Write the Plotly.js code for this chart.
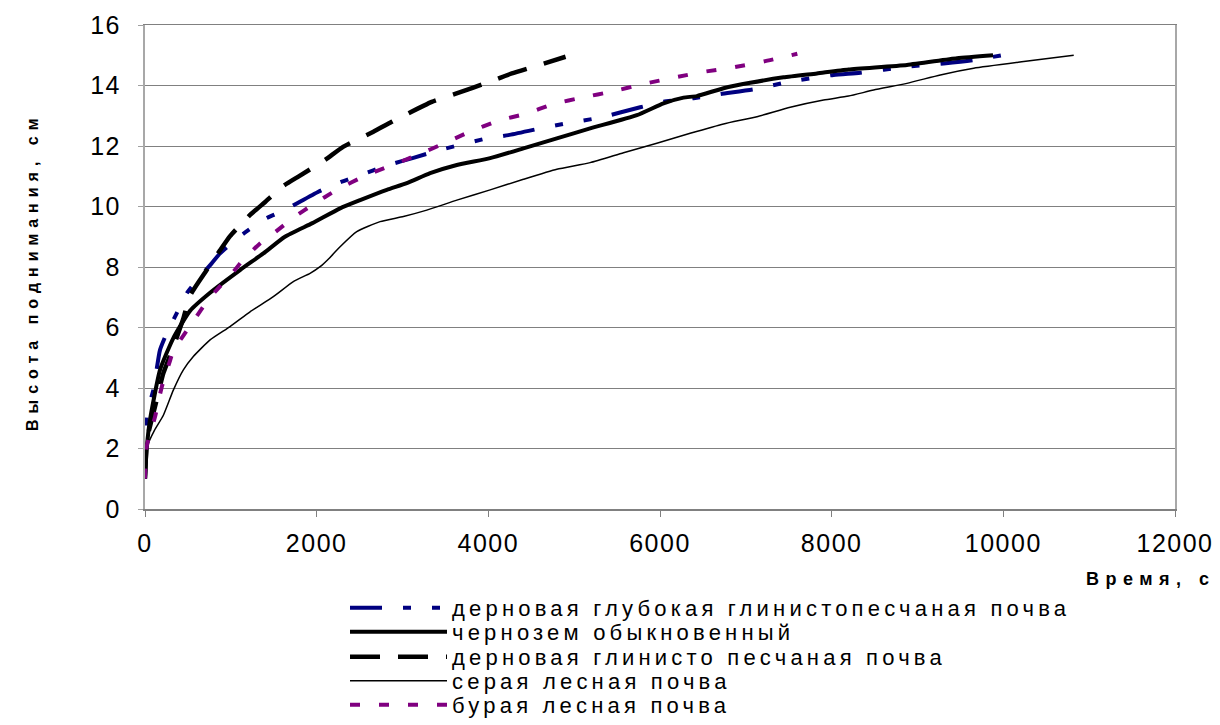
<!DOCTYPE html>
<html>
<head>
<meta charset="utf-8">
<script src="https://cdn.plot.ly/plotly-3.0.1.min.js"></script>
<style>
  html, body { margin: 0; padding: 0; background: #ffffff; }
  svg g.xtick text, svg g.ytick text { letter-spacing: 1.5px !important; }
</style>
</head>
<body>
<div id="chart" style="width:1220px;height:725px;"></div>
<script>
// ---- data ----
const seriesNames = [
  'дерновая глубокая глинистопесчаная почва',
  'чернозем обыкновенный',
  'дерновая глинисто песчаная почва',
  'серая лесная почва',
  'бурая лесная почва'
];

const timeSodDeep = [0, 8, 25, 97, 175, 253, 369, 486, 641, 777, 874, 1127, 1399, 1612, 2020, 2273, 2467, 2836, 3127, 3438, 3982, 4235, 4604, 4915, 5303, 5769, 6041, 6391, 6702, 7090, 7517, 8022, 8333, 8877, 9305, 9655, 9985];
const heightSodDeep = [1, 2.0, 3.2, 3.93, 5.26, 5.81, 6.47, 7.13, 7.68, 8.12, 8.45, 9.06, 9.59, 9.86, 10.49, 10.8, 11.0, 11.37, 11.61, 11.87, 12.25, 12.36, 12.58, 12.75, 12.94, 13.28, 13.46, 13.58, 13.72, 13.87, 14.13, 14.35, 14.42, 14.62, 14.73, 14.84, 15.0];

const timeChernozem = [0, 20, 58, 175, 330, 524, 758, 1107, 1379, 1630, 1950, 2273, 2506, 2817, 3050, 3322, 3633, 4021, 4409, 4798, 5186, 5730, 6041, 6274, 6429, 6740, 7051, 7439, 7828, 8197, 8877, 9460, 9880];
const heightChernozem = [1, 2.0, 2.94, 4.6, 5.65, 6.55, 7.15, 7.9, 8.45, 9.0, 9.45, 9.94, 10.21, 10.55, 10.77, 11.1, 11.37, 11.6, 11.92, 12.25, 12.58, 13.02, 13.41, 13.6, 13.65, 13.91, 14.09, 14.27, 14.4, 14.53, 14.68, 14.9, 15.0];

const timeSodSandy = [0, 15, 39, 136, 214, 330, 447, 524, 719, 874, 991, 1224, 1400, 1612, 1787, 2098, 2312, 2661, 2875, 3341, 3613, 4021, 4274, 4526, 4900];
const heightSodSandy = [1, 2.0, 2.5, 3.6, 4.49, 5.35, 6.3, 7.05, 7.9, 8.55, 9.02, 9.72, 10.15, 10.68, 10.99, 11.54, 11.98, 12.47, 12.8, 13.46, 13.72, 14.13, 14.4, 14.62, 14.95];

const timeGrey = [0, 30, 110, 214, 330, 447, 563, 758, 991, 1224, 1495, 1728, 1923, 2040, 2150, 2273, 2467, 2739, 3011, 3283, 3633, 4021, 4409, 4798, 5186, 5575, 5963, 6352, 6740, 7129, 7517, 7906, 8197, 8489, 8877, 9266, 9655, 10238, 10820];
const heightGrey = [1, 2.1, 2.6, 3.1, 3.93, 4.6, 5.04, 5.59, 6.03, 6.52, 7.02, 7.52, 7.79, 8.01, 8.3, 8.67, 9.17, 9.5, 9.67, 9.88, 10.21, 10.55, 10.9, 11.23, 11.45, 11.78, 12.09, 12.42, 12.73, 12.97, 13.28, 13.52, 13.65, 13.85, 14.07, 14.35, 14.57, 14.79, 15.0];

const timeBrown = [0, 19, 117, 194, 291, 330, 524, 719, 816, 1029, 1146, 1340, 1515, 1748, 1961, 2234, 2584, 2933, 3205, 3438, 3768, 4118, 4429, 4759, 5109, 5439, 5808, 6177, 6527, 6857, 7207, 7600];
const heightBrown = [1, 2.06, 3.05, 4.02, 4.9, 5.23, 6.05, 6.85, 7.18, 7.84, 8.25, 8.78, 9.15, 9.67, 10.07, 10.55, 11.04, 11.43, 11.74, 12.03, 12.45, 12.84, 13.06, 13.39, 13.61, 13.8, 14.05, 14.27, 14.46, 14.6, 14.79, 15.05];

const xTickVals = [0, 2000, 4000, 6000, 8000, 10000, 12000];
const yTickVals = [0, 2, 4, 6, 8, 10, 12, 14, 16];

const xTitle = 'Время, с';
const yTitle = 'Высота поднимания, см';

// ---- helpers ----
const FONT = 'Liberation Sans, Arial, sans-serif';
function spaced(txt, px) {
  return '<span style="letter-spacing:' + px + 'px">' + txt + '</span>';
}
function mk(x, y, name, color, width, dash, legendId) {
  return {
    type: 'scatter', mode: 'lines', x: x, y: y, name: spaced(name, 4.2),
    line: {color: color, width: width, dash: dash, shape: 'spline', smoothing: 0.5},
    legend: legendId, hoverinfo: 'x+y'
  };
}
const traces = [
  mk(timeSodDeep, heightSodDeep, seriesNames[0], '#000080', 4, '32px,21px,8px,21px,8px,21px', 'legend'),
  mk(timeChernozem, heightChernozem, seriesNames[1], '#000000', 4, 'solid', 'legend2'),
  mk(timeSodSandy, heightSodSandy, seriesNames[2], '#000000', 4.5, '30px,18px', 'legend3'),
  mk(timeGrey, heightGrey, seriesNames[3], '#000000', 1.5, 'solid', 'legend4'),
  mk(timeBrown, heightBrown, seriesNames[4], '#800080', 4, '10px,19px', 'legend5')
];

const H = 725;
const rowY = [608, 632, 657, 681, 705];
function legendAt(py) {
  return {
    xref: 'container', yref: 'container',
    x: 345 / 1220, y: 1 - py / H, xanchor: 'left', yanchor: 'middle',
    font: {family: FONT, size: 22, color: '#000000'},
    bgcolor: 'rgba(0,0,0,0)', borderwidth: 0, itemwidth: 97
  };
}

const layout = {
  width: 1220, height: 725,
  margin: {l: 145, r: 45, t: 25, b: 216, autoexpand: false},
  paper_bgcolor: '#ffffff', plot_bgcolor: '#ffffff',
  showlegend: true,
  xaxis: {
    range: [0, 12000], tickvals: xTickVals, ticktext: xTickVals.map(String),
    showgrid: false, zeroline: false, tickangle: 0, automargin: false,
    showline: true, linecolor: '#808080', linewidth: 1.5, mirror: true,
    ticks: 'outside', ticklen: 6, tickcolor: '#808080', tickwidth: 1,
    ticklabelstandoff: 5,
    tickfont: {family: FONT, size: 25, color: '#000000'}
  },
  yaxis: {
    range: [0, 16], tickvals: yTickVals, ticktext: yTickVals.map(String),
    showgrid: true, gridcolor: '#808080', gridwidth: 1, zeroline: false, automargin: false,
    showline: true, linecolor: '#a8a8a8', linewidth: 2, mirror: true,
    ticks: 'outside', ticklen: 5, tickcolor: '#a0a0a0', tickwidth: 1,
    ticklabelstandoff: 12,
    tickfont: {family: FONT, size: 25, color: '#000000'}
  },
  annotations: [
    {
      text: spaced(xTitle, 6.5), xref: 'paper', yref: 'paper',
      x: (1218 - 145) / 1030, y: (509 - 579) / 484,
      xanchor: 'right', yanchor: 'middle', showarrow: false,
      font: {family: FONT, size: 18, color: '#000000', weight: 'bold'}
    },
    {
      text: spaced(yTitle, 6), xref: 'paper', yref: 'paper',
      x: (32 - 145) / 1030, y: (509 - 272) / 484, textangle: -90,
      xanchor: 'center', yanchor: 'middle', showarrow: false,
      font: {family: FONT, size: 16, color: '#000000', weight: 'bold'}
    }
  ],
  legend: legendAt(rowY[0]),
  legend2: legendAt(rowY[1]),
  legend3: legendAt(rowY[2]),
  legend4: legendAt(rowY[3]),
  legend5: legendAt(rowY[4])
};

Plotly.newPlot('chart', traces, layout, {displayModeBar: false, staticPlot: true});
</script>
</body>
</html>
